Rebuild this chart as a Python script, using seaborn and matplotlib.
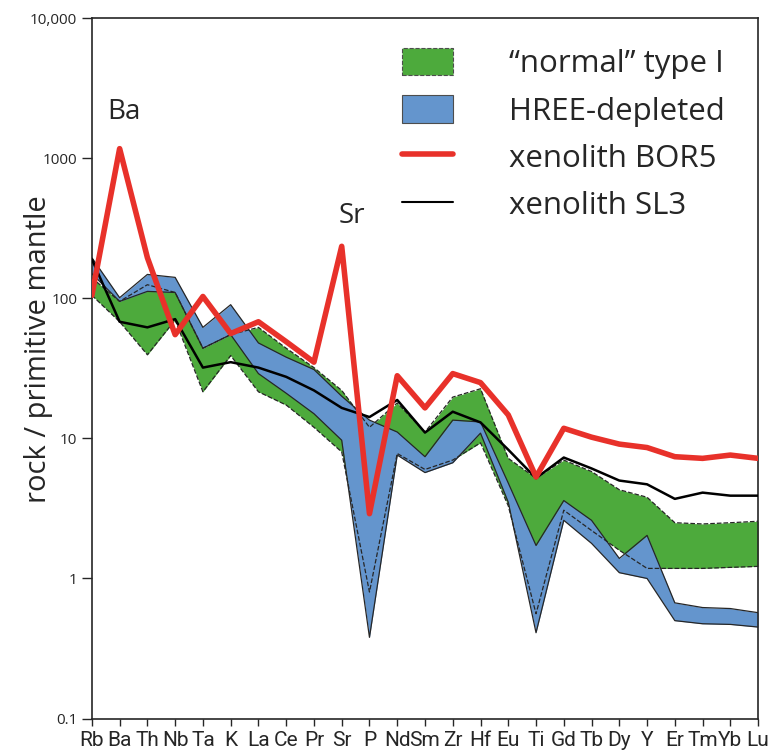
import matplotlib
matplotlib.use('Agg')
import matplotlib.pyplot as plt
from matplotlib.patches import Patch
from matplotlib.lines import Line2D
import seaborn as sns
import numpy as np

elements = ['Rb', 'Ba', 'Th', 'Nb', 'Ta', 'K', 'La', 'Ce', 'Pr', 'Sr', 'P', 'Nd', 'Sm',
            'Zr', 'Hf', 'Eu', 'Ti', 'Gd', 'Tb', 'Dy', 'Y', 'Er', 'Tm', 'Yb', 'Lu']

# xenolith lines
bor5 = [105, 1170, 195, 55, 103, 56, 68, 49, 35, 235, 2.9, 28, 16.5, 29, 25, 14.7, 5.3,
        11.8, 10.2, 9.1, 8.6, 7.4, 7.2, 7.6, 7.2]
sl3 = [190, 68, 62, 71, 32, 35, 32, 27.5, 22, 16.5, 14.2, 18.8, 11, 15.5, 13, 8.3, 5.2,
       7.3, 6.1, 5.0, 4.7, 3.7, 4.1, 3.9, 3.9]

# "normal" type I field
normal_hi = [140, 95, 125, 110, 44, 55, 62, 44, 32, 22, 12, 17.9, 11.1, 19.7, 22.6, 7.2, 5.2,
             7.0, 5.8, 4.3, 3.8, 2.5, 2.45, 2.5, 2.56]
normal_lo = [105, 68, 39.5, 70, 21.5, 39, 21.5, 17.3, 12, 8.0, 0.8, 7.8, 6.0, 7.0, 9.3, 3.3, 0.56,
             3.07, 2.2, 1.59, 1.18, 1.18, 1.18, 1.2, 1.22]

# HREE-depleted field
hree_hi = [195, 101, 148, 141, 62, 90, 48, 38, 31, 20, 13.5, 11.1, 7.4, 13.5, 13.1, 4.8, 1.72,
           3.6, 2.6, 1.39, 2.03, 0.67, 0.62, 0.61, 0.57]
hree_lo = [150, 95, 112, 110, 44, 55, 29, 21, 15, 9.7, 0.38, 7.6, 5.7, 6.7, 10.9, 3.5, 0.41,
           2.6, 1.78, 1.1, 1.0, 0.5, 0.475, 0.47, 0.45]

ytick_vals = [0.1, 1, 10, 100, 1000, 10000]
ytick_labels = ['0.1', '1', '10', '100', '1000', '10,000']

green = '#4daa3c'
blue = '#6495cd'
red = '#e8312a'

sns.set_style('ticks')
plt.rcParams['font.family'] = ['Open Sans', 'DejaVu Sans']

fig = plt.figure(figsize=(7.72, 7.54), dpi=100)
ax = fig.add_axes([0.119, 0.047, 0.863, 0.929])

x = np.arange(len(elements))

ax.fill_between(x, normal_lo, normal_hi, color=green, lw=0, zorder=1)
ax.fill_between(x, hree_lo, hree_hi, color=blue, lw=0, zorder=2)

# field outlines
sns.lineplot(x=x, y=hree_hi, ax=ax, color='0.15', lw=0.9, estimator=None, sort=False, zorder=3)
sns.lineplot(x=x, y=hree_lo, ax=ax, color='0.15', lw=0.9, estimator=None, sort=False, zorder=3)
sns.lineplot(x=x, y=normal_hi, ax=ax, color='0.15', lw=0.9, linestyle='--', dashes=(3, 2),
             estimator=None, sort=False, zorder=3)
sns.lineplot(x=x, y=normal_lo, ax=ax, color='0.15', lw=0.9, linestyle='--', dashes=(3, 2),
             estimator=None, sort=False, zorder=3)

sns.lineplot(x=x, y=sl3, ax=ax, color='black', lw=1.8, estimator=None, sort=False, zorder=4)
sns.lineplot(x=x, y=bor5, ax=ax, color=red, lw=4, estimator=None, sort=False, zorder=5)

ax.set_yscale('log')
ax.set_xlim(0, len(elements) - 1)
ax.set_ylim(0.1, 10000)
ax.set_yticks(ytick_vals)
ax.set_yticklabels(ytick_labels)
ax.yaxis.set_minor_locator(matplotlib.ticker.NullLocator())
ax.set_xticks(x)
ax.set_xticklabels(elements, family=['Roboto', 'DejaVu Sans'])
ax.tick_params(axis='x', labelsize=15, length=5, width=1, pad=4)
ax.tick_params(axis='y', labelsize=11, length=7, width=1)
ax.set_ylabel('rock / primitive mantle', fontsize=21)
ax.yaxis.set_label_coords(-0.058, 0.527)
for s in ax.spines.values():
    s.set_linewidth(1.2)

ax.text(1.15, 2150, 'Ba', fontsize=20, ha='center', va='center')
ax.text(9.35, 385, 'Sr', fontsize=20, ha='center', va='center')

handles = [Patch(facecolor=green, edgecolor='0.3', linestyle='--', lw=0.8),
           Patch(facecolor=blue, edgecolor='0.3', lw=0.8),
           Line2D([], [], color=red, lw=4),
           Line2D([], [], color='black', lw=1.5)]
labels = ['\u201cnormal\u201d type I', 'HREE-depleted', 'xenolith BOR5', 'xenolith SL3']
ax.legend(handles, labels, loc='upper left', bbox_to_anchor=(0.465, 0.958), frameon=False,
          fontsize=22.5, handlelength=1.65, handleheight=1.0, handletextpad=1.8,
          labelspacing=0.5, borderpad=0, borderaxespad=0)

fig.savefig('out.png', dpi=100)
